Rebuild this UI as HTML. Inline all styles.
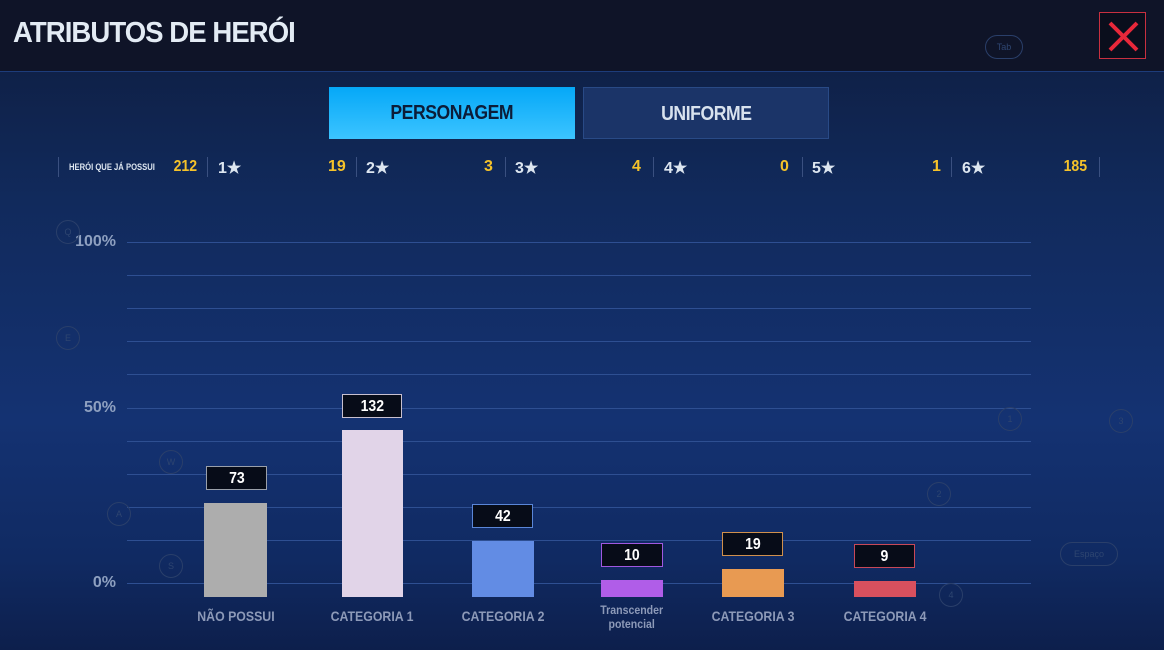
<!DOCTYPE html>
<html><head><meta charset="utf-8"><style>
*{margin:0;padding:0;box-sizing:border-box}
body{width:1164px;height:650px;overflow:hidden;position:relative;font-family:"Liberation Sans",sans-serif;font-weight:bold;
background:linear-gradient(180deg,#0f2148 72px,#112a5c 200px,#143272 420px,#102a62 560px,#0d1f4c 650px)}
.n{display:inline-block;transform:scaleX(.88)}
.top{position:absolute;left:0;top:0;width:1164px;height:72px;background:#0f1428;border-bottom:1px solid #1d3c7a}
.title{position:absolute;left:13px;top:17px;font-size:29px;color:#e3ebf4;letter-spacing:-1px;transform:scaleX(.95);transform-origin:left}
.close{position:absolute;left:1099px;top:12px;width:47px;height:47px;border:1px solid #c83040;background:#0a0e1c}
.tab{position:absolute;top:87px;height:52px;width:246px;text-align:center;line-height:52px;font-size:20px;letter-spacing:-.5px}
.stat{position:absolute;top:158px;font-size:16px}
.y{color:#f5c22a}.w{color:#dde6f0}
.sep{position:absolute;top:157px;width:1px;height:20px;background:#3a5080}
.grid{position:absolute;left:127px;width:904px;height:1px;background:#2e4f92}
.ylab{position:absolute;left:70px;width:46px;text-align:right;color:#8ea0c0;font-size:16px}
.bar{position:absolute}
.val{position:absolute;height:24px;background:#070c18;color:#fff;text-align:center;line-height:23px;font-size:16px;border:1px solid}
.xl{position:absolute;width:140px;text-align:center;color:#8d9ab8;font-size:14px}
.ghost{position:absolute;border:1.5px solid #2a3f6a;border-radius:50%;width:24px;height:24px;color:#2e4570;font-size:9px;text-align:center;line-height:22px;font-weight:normal}
</style></head><body>
<div class="top"></div>
<div class="title">ATRIBUTOS DE HERÓI</div>
<div class="ghost" style="left:985px;top:35px;width:38px;border-radius:12px;">Tab</div>
<div class="close"><svg width="47" height="47"><path d="M10 10L37 37M37 10L10 37" stroke="#e8283a" stroke-width="4"/></svg></div>
<div class="tab" style="left:329px;background:linear-gradient(#05a8f8,#3cc4ff);color:#0c1c38"><span class="n">PERSONAGEM</span></div>
<div class="tab" style="left:583px;background:#1b3468;color:#d8e2ee;border:1px solid #294a86"><span class="n">UNIFORME</span></div>
<div class="sep" style="left:58px"></div>
<div class="stat w" style="left:69px;top:162px;font-size:9px;transform:scaleX(.85);transform-origin:left">HERÓI QUE JÁ POSSUI</div>
<div class="stat y" style="left:172px"><span class="n">212</span></div><div class="sep" style="left:207px"></div><div class="stat w" style="left:218px">1★</div>
<div class="stat y" style="left:328px">19</div><div class="sep" style="left:356px"></div><div class="stat w" style="left:366px">2★</div>
<div class="stat y" style="left:484px">3</div><div class="sep" style="left:505px"></div><div class="stat w" style="left:515px">3★</div>
<div class="stat y" style="left:632px">4</div><div class="sep" style="left:653px"></div><div class="stat w" style="left:664px">4★</div>
<div class="stat y" style="left:780px">0</div><div class="sep" style="left:802px"></div><div class="stat w" style="left:812px">5★</div>
<div class="stat y" style="left:932px">1</div><div class="sep" style="left:951px"></div><div class="stat w" style="left:962px">6★</div>
<div class="stat y" style="left:1062px"><span class="n">185</span></div><div class="sep" style="left:1099px"></div>

<div class="grid" style="top:242px"></div><div class="grid" style="top:275px"></div><div class="grid" style="top:308px"></div>
<div class="grid" style="top:341px"></div><div class="grid" style="top:374px"></div><div class="grid" style="top:408px"></div>
<div class="grid" style="top:441px"></div><div class="grid" style="top:474px"></div><div class="grid" style="top:507px"></div>
<div class="grid" style="top:540px"></div><div class="grid" style="top:583px"></div>
<div class="ylab" style="top:233px">100%</div>
<div class="ylab" style="top:399px">50%</div>
<div class="ylab" style="top:574px">0%</div>

<div class="ghost" style="left:56px;top:220px">Q</div>
<div class="ghost" style="left:56px;top:326px">E</div>
<div class="ghost" style="left:159px;top:450px">W</div>
<div class="ghost" style="left:107px;top:502px">A</div>
<div class="ghost" style="left:159px;top:554px">S</div>
<div class="ghost" style="left:998px;top:407px">1</div>
<div class="ghost" style="left:1109px;top:409px">3</div>
<div class="ghost" style="left:927px;top:482px">2</div>
<div class="ghost" style="left:939px;top:583px">4</div>
<div class="ghost" style="left:1060px;top:542px;width:58px;border-radius:12px">Espaço</div>

<div class="bar" style="left:204px;top:503px;width:63px;height:94px;background:#adadad"></div>
<div class="bar" style="left:342px;top:430px;width:61px;height:167px;background:#e1d4e8"></div>
<div class="bar" style="left:472px;top:541px;width:62px;height:56px;background:#628ce4"></div>
<div class="bar" style="left:601px;top:580px;width:62px;height:17px;background:#b05de8"></div>
<div class="bar" style="left:722px;top:569px;width:62px;height:28px;background:#e89a52"></div>
<div class="bar" style="left:854px;top:581px;width:62px;height:16px;background:#d8505e"></div>

<div class="val" style="left:206px;top:466px;width:61px;border-color:#9aa0aa"><span class="n">73</span></div>
<div class="val" style="left:342px;top:394px;width:60px;border-color:#c8c0d0"><span class="n">132</span></div>
<div class="val" style="left:472px;top:504px;width:61px;border-color:#5a86d8"><span class="n">42</span></div>
<div class="val" style="left:601px;top:543px;width:62px;border-color:#a058e0"><span class="n">10</span></div>
<div class="val" style="left:722px;top:532px;width:61px;border-color:#d0904c"><span class="n">19</span></div>
<div class="val" style="left:854px;top:544px;width:61px;border-color:#c84858"><span class="n">9</span></div>

<div class="xl" style="left:166px;top:608px"><span class="n">NÃO POSSUI</span></div>
<div class="xl" style="left:302px;top:608px"><span class="n">CATEGORIA 1</span></div>
<div class="xl" style="left:433px;top:608px"><span class="n">CATEGORIA 2</span></div>
<div class="xl" style="left:562px;top:603px;font-size:12px;line-height:14px"><span class="n">Transcender<br>potencial</span></div>
<div class="xl" style="left:683px;top:608px"><span class="n">CATEGORIA 3</span></div>
<div class="xl" style="left:815px;top:608px"><span class="n">CATEGORIA 4</span></div>
</body></html>
